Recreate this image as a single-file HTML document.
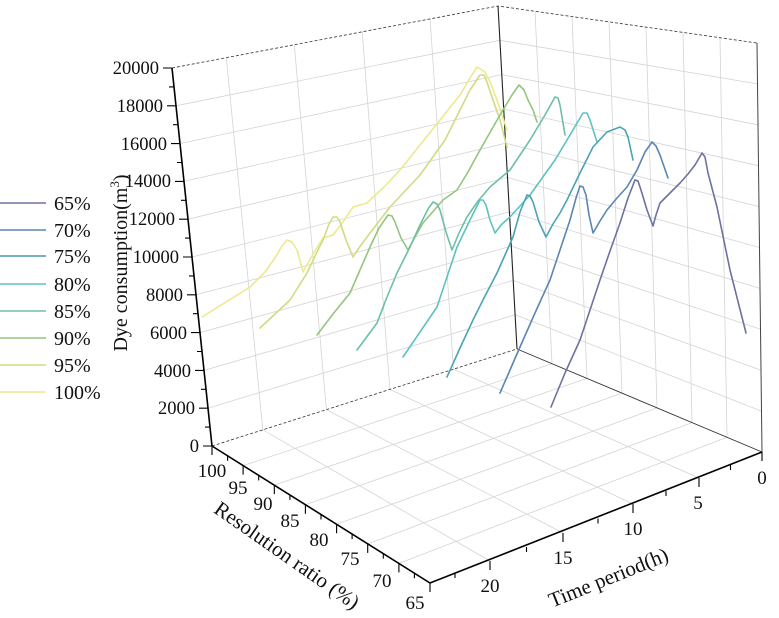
<!DOCTYPE html>
<html><head><meta charset="utf-8"><style>
html,body{margin:0;padding:0;background:#fff}
svg{display:block}
text{font-family:"Liberation Serif",serif;fill:#111}
</style></head><body>
<svg width="779" height="618" viewBox="0 0 779 618" xmlns="http://www.w3.org/2000/svg">
<g stroke="#d4d4d4" stroke-width="0.8" fill="none">
<path d="M208,408.2L515.1,314.7L761.5,411.1 M204,370.4L513.2,280.4L761,370.2 M200,332.6L511.3,246.1L760.5,329.3 M196,294.8L509.4,211.8L760,288.4 M192,257L507.5,177.5L759.5,247.5 M188,219.2L505.6,143.2L759,206.6 M184,181.4L503.7,108.9L758.5,165.7 M180,143.6L501.8,74.6L758,124.8 M176,105.8L499.9,40.3L757.5,83.9"/>
<path d="M262.8,429.8L226.3,57.7 M326.4,409.6L294.3,44.8 M389.9,389.4L362.2,31.8 M453.5,369.2L430.1,18.9"/>
<path d="M552,363.7L535,11.3 M587,378.4L572,16.6 M622,393.1L609,21.9 M657,407.9L646,27.1 M692,422.6L683,32.4 M727,437.3L720,37.7"/>
<path d="M262.8,429.8L490,561 M326.4,409.6L563,533 M389.9,389.4L633,504 M453.5,369.2L699,478"/>
<path d="M243.1,465.6L552,363.7 M274.3,485.1L587,378.4 M305.4,504.7L622,393.1 M336.6,524.3L657,407.9 M367.7,543.9L692,422.6 M398.9,563.4L727,437.3"/>
</g>
<g fill="none">
<path d="M172,68L498,6L757,43" stroke="#333" stroke-width="0.8" stroke-dasharray="3,2"/>
<path d="M212,446L517,349" stroke="#333" stroke-width="0.8" stroke-dasharray="3,2"/>
<path d="M517,349L762,452" stroke="#333" stroke-width="0.9"/>
<path d="M517,349L498,6" stroke="#222" stroke-width="1.1"/>
<path d="M762,452L757,43" stroke="#444" stroke-width="1"/>
</g>
<g fill="none" stroke-width="1.6" stroke-linejoin="round" stroke-linecap="round">
<polyline stroke="#ede98c" points="202,317 226,302 250,287 265,272 275,258 282,246 287,240 292,242 297,250 303,272 313,254 323,238 333,235 343,222 353,207 367,203 384,187 400,170 420,145 440,120 460,95 470,78 477,67 485,72 491,84 497,100 507,130"/>
<polyline stroke="#cfdc82" points="260,328 275,314 290,300 307,273 315,256 323,240 329,224 333,217 337,217 340,222 346,240 353,257 361,245 370,233 390,207 420,175 445,140 460,110 470,90 480,75 484,75 487,82 493,100 500,120 507,147"/>
<polyline stroke="#92c67e" points="317,335 333,314 350,293 360,270 370,247 379,228 388,215 392,216 395,222 401,238 408,250 415,237 423,223 443,200 457,190 468,172 480,150 500,115 512,95 519,85 524,90 528,100 533,110 537,122"/>
<polyline stroke="#6ec0a2" points="357,350 377,323 387,297 397,273 410,247 420,225 428,209 433,202 437,204 440,210 446,232 452,250 459,233 467,217 478,201 490,187 510,170 530,140 545,115 555,97 558,98 560,105 565,135"/>
<polyline stroke="#5cc3c2" points="403,357 420,332 437,307 447,277 457,247 470,220 480,200 483,200 486,205 490,220 495,233 502,224 510,217 530,195 555,160 570,135 583,113 587,113 590,120 597,142"/>
<polyline stroke="#4aa4b6" points="447,377 460,348 473,320 485,296 497,273 505,255 513,237 520,212 527,195 530,196 533,202 539,222 546,237 553,224 560,213 567,200 580,173 593,147 607,132 620,127 625,130 628,137 633,160"/>
<polyline stroke="#5b86b2" points="500,393 510,370 520,347 535,313 550,280 560,250 570,220 576,198 580,186 583,187 586,195 589,215 593,233 600,221 607,210 617,198 627,187 637,170 645,152 652,142 656,146 660,155 668,178"/>
<polyline stroke="#6e72a0" points="551,407 565,373 580,340 590,310 600,280 610,251 620,223 628,198 635,180 638,181 641,190 647,210 653,226 656,215 660,203 670,193 680,183 688,174 695,165 702,153 705,157 708,173 717,207 730,270 746,333"/>
</g>
<g stroke="#000" fill="none">
<path d="M212,446L172,68 M212,446L430,583L762,452" stroke-width="1.6"/>
<path stroke-width="1.1" d="M212,446h-9 M210,427.1h-5 M208,408.2h-9 M206,389.3h-5 M204,370.4h-9 M202,351.5h-5 M200,332.6h-9 M198,313.7h-5 M196,294.8h-9 M194,275.9h-5 M192,257h-9 M190,238.1h-5 M188,219.2h-9 M186,200.3h-5 M184,181.4h-9 M182,162.5h-5 M180,143.6h-9 M178,124.7h-5 M176,105.8h-9 M174,86.9h-5 M172,68h-9"/>
<path stroke-width="1.1" d="M212,446v9 M227.6,455.8v5 M243.1,465.6v9 M258.7,475.4v5 M274.3,485.1v9 M289.9,494.9v5 M305.4,504.7v9 M321,514.5v5 M336.6,524.3v9 M352.1,534.1v5 M367.7,543.9v9 M383.3,553.6v5 M398.9,563.4v9 M414.4,573.2v5 M430,583v9"/>
<path stroke-width="1.1" d="M762,452v9 M730.5,465v5 M699,478v9 M666,491v5 M633,504v9 M598,518.5v5 M563,533v9 M526.5,547v5 M490,561v9 M455,573v5"/>
</g>
<g font-size="18.5" text-anchor="end">
<text x="199" y="452">0</text><text x="195" y="414">2000</text><text x="191" y="377">4000</text><text x="187" y="339">6000</text><text x="183" y="301">8000</text><text x="179" y="263">10000</text><text x="175" y="225">12000</text><text x="171" y="187">14000</text><text x="167" y="150">16000</text><text x="163" y="112">18000</text><text x="159" y="74">20000</text>
</g>
<g font-size="19" text-anchor="middle">
<text x="212" y="477">100</text><text x="238" y="494">95</text><text x="263" y="510">90</text><text x="290" y="527">85</text><text x="319" y="546">80</text><text x="350" y="565">75</text><text x="382" y="587">70</text><text x="415" y="609">65</text>
<text x="762" y="484">0</text><text x="698" y="509">5</text><text x="633" y="535">10</text><text x="563" y="564">15</text><text x="490" y="592">20</text>
</g>
<text transform="translate(127,263) rotate(-90)" text-anchor="middle" font-size="20">Dye consumption(m<tspan dy="-8" font-size="13">3</tspan><tspan dy="8">)</tspan></text>
<text transform="translate(283,561) rotate(35)" text-anchor="middle" font-size="21">Resolution ratio (%)</text>
<text transform="translate(611,584) rotate(-22)" text-anchor="middle" font-size="21">Time period(h)</text>
<g stroke-width="1.6">
<line x1="0" y1="203" x2="46" y2="203" stroke="#6e72a0"/>
<line x1="0" y1="230" x2="46" y2="230" stroke="#5b86b2"/>
<line x1="0" y1="256" x2="46" y2="256" stroke="#4a9aaf"/>
<line x1="0" y1="284" x2="46" y2="284" stroke="#5cc3c2"/>
<line x1="0" y1="311" x2="46" y2="311" stroke="#6ec0a2"/>
<line x1="0" y1="338" x2="46" y2="338" stroke="#92c67e"/>
<line x1="0" y1="365" x2="46" y2="365" stroke="#cfdc82"/>
<line x1="0" y1="392" x2="46" y2="392" stroke="#ede98c"/>
</g>
<g font-size="20">
<text x="54" y="210">65%</text><text x="54" y="237">70%</text><text x="54" y="263">75%</text><text x="54" y="291">80%</text><text x="54" y="318">85%</text><text x="54" y="345">90%</text><text x="54" y="372">95%</text><text x="54" y="399">100%</text>
</g>
</svg>
</body></html>
